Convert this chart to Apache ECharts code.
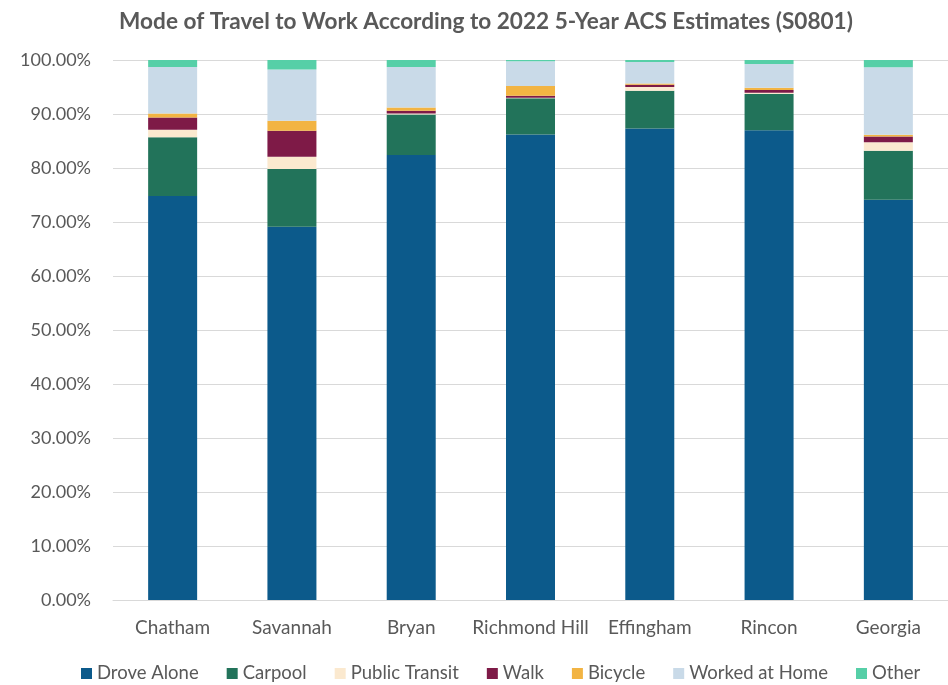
<!DOCTYPE html>
<html><head><meta charset="utf-8">
<script src="https://cdn.jsdelivr.net/npm/echarts@6/dist/echarts.min.js"></script>
<style>html,body{margin:0;padding:0;background:#fff}#c{width:948px;height:685px}</style>
</head><body><div id="c"></div>
<script>
const categories = ['Chatham','Savannah','Bryan','Richmond Hill','Effingham','Rincon','Georgia'];
const droveAlone    = [74.8, 69.1, 82.4, 86.2, 87.3, 87.0, 74.1];
const carpool       = [10.9, 10.7, 7.5, 6.7, 7.0, 6.7, 9.1];
const publicTransit = [1.37, 2.3, 0.2, 0.1, 0.68, 0.25, 1.55];
const walk          = [2.3, 4.8, 0.5, 0.37, 0.43, 0.5, 1.1];
const bicycle       = [0.74, 1.85, 0.6, 1.8, 0.25, 0.43, 0.3];
const workedAtHome  = [8.6, 9.5, 7.5, 4.6, 3.95, 4.4, 12.5];
const other         = [1.37, 1.85, 1.37, 0.25, 0.5, 0.74, 1.42];

const seriesDefs = [
  ['Drove Alone', droveAlone, '#0C5A8B'],
  ['Carpool', carpool, '#22735A'],
  ['Public Transit', publicTransit, '#FBE9CF'],
  ['Walk', walk, '#7E1A47'],
  ['Bicycle', bicycle, '#F2B443'],
  ['Worked at Home', workedAtHome, '#C9DAE8'],
  ['Other', other, '#56CFA7']
];
const font = 'Lato, "Open Sans", sans-serif';
const chart = echarts.init(document.getElementById('c'), null, {renderer:'canvas'});
chart.setOption({
  animation:false,
  title:{text:'Mode of Travel to Work According to 2022 5-Year ACS Estimates (S0801)', left:481, textAlign:'center', top:5,
    textStyle:{fontFamily:font, fontSize:22.6, fontWeight:'bold', color:'#595959'}},
  legend:{top:659, left:76, itemWidth:11, itemHeight:11, itemGap:28, icon:'rect',
    textStyle:{fontFamily:font, fontSize:18.5, color:'#595959'}},
  grid:{left:113, width:847, top:60, bottom:85},
  xAxis:{type:'category', data:categories, axisTick:{show:false},
    axisLine:{lineStyle:{color:'#D9D9D9'}},
    axisLabel:{interval:0, fontFamily:font, fontSize:19, color:'#595959', margin:18}},
  yAxis:{type:'value', min:0, max:100, interval:10,
    axisLabel:{fontFamily:font, fontSize:18, color:'#595959', margin:22, formatter:v=>v.toFixed(2)+'%'},
    splitLine:{lineStyle:{color:'#D9D9D9', width:1}}},
  series: seriesDefs.map(([n,d,c])=>({name:n, type:'bar', stack:'a', data:d, barWidth:49,
    itemStyle:{color:c}}))
});
</script></body></html>
